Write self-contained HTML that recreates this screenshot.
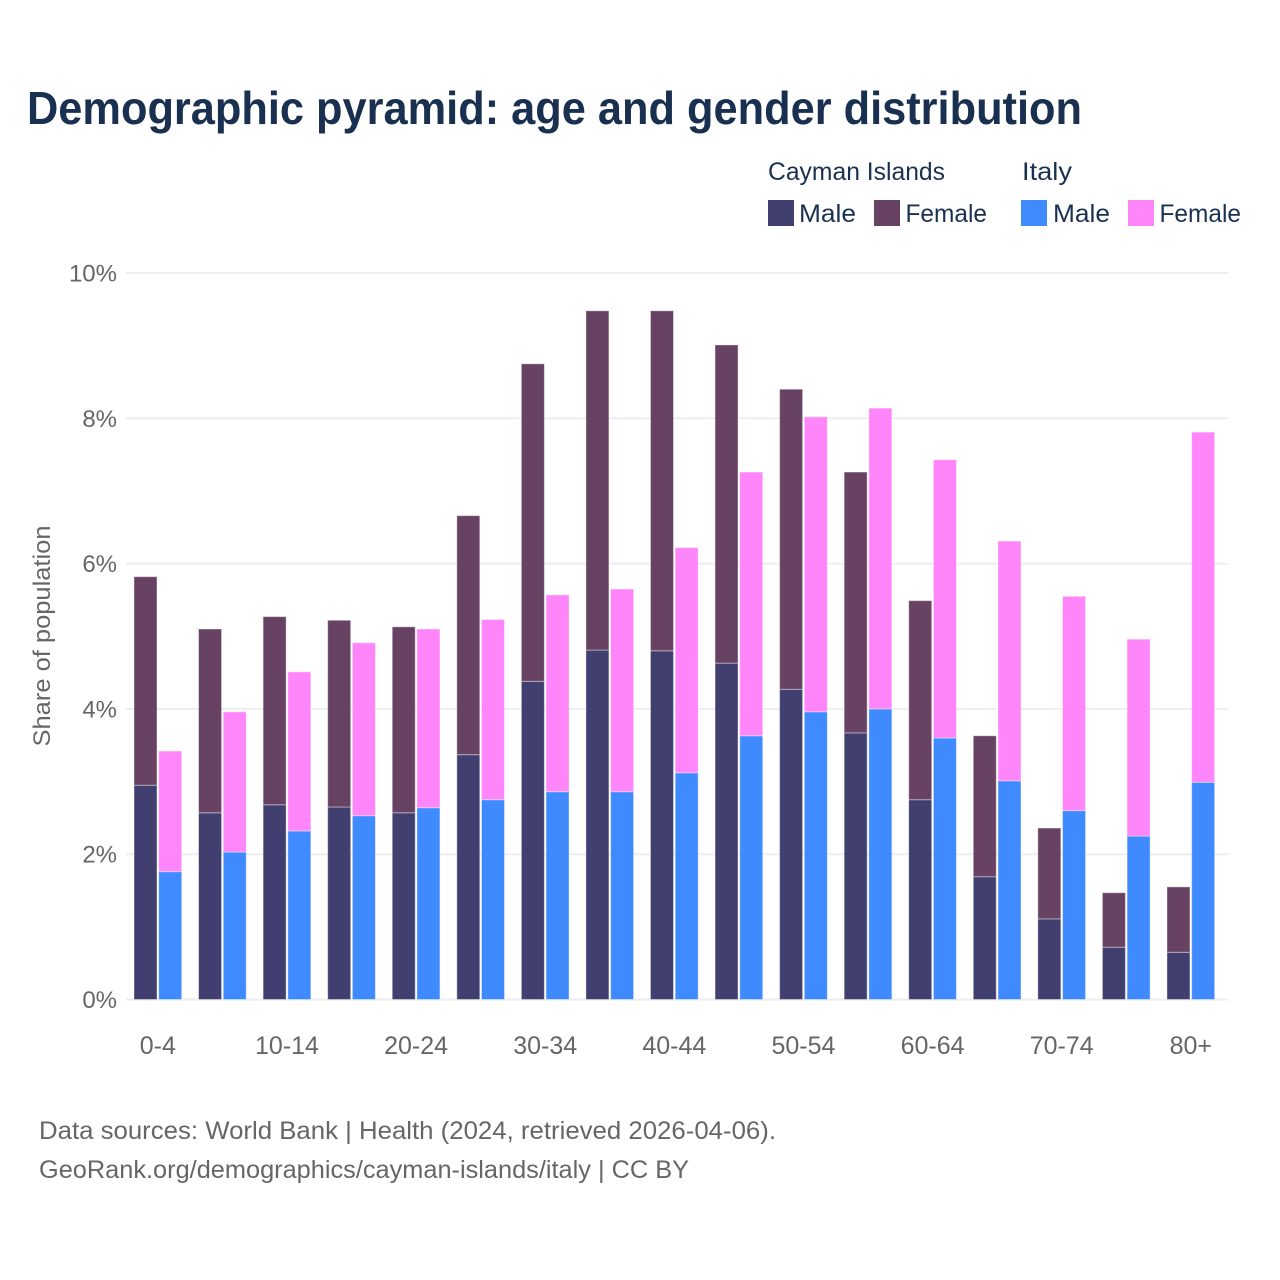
<!DOCTYPE html>
<html lang="en">
<head>
<meta charset="utf-8">
<title>Demographic pyramid: age and gender distribution</title>
<style>
html,body{margin:0;padding:0;background:#fff}
svg{display:block;font-family:"Liberation Sans",sans-serif}
</style>
</head>
<body>
<svg id="chart" xmlns="http://www.w3.org/2000/svg" width="1280" height="1280" viewBox="0 0 1280 1280">
  <rect x="0" y="0" width="1280" height="1280" fill="#ffffff"/>
  <text x="27" y="124" font-size="46" font-weight="700" fill="#1a3050" textLength="1055" lengthAdjust="spacingAndGlyphs">Demographic pyramid: age and gender distribution</text>

  <g font-size="25" fill="#1a3050">
    <text x="768" y="180" textLength="177" lengthAdjust="spacingAndGlyphs">Cayman Islands</text>
    <text x="1022" y="180" textLength="50" lengthAdjust="spacingAndGlyphs">Italy</text>
    <rect x="768" y="200" width="26" height="26" fill="#413e70"/>
    <text x="799" y="222" textLength="57" lengthAdjust="spacingAndGlyphs">Male</text>
    <rect x="874" y="200" width="26" height="26" fill="#684262"/>
    <text x="905.5" y="222" textLength="81.5" lengthAdjust="spacingAndGlyphs">Female</text>
    <rect x="1021" y="200" width="26" height="26" fill="#408aff"/>
    <text x="1053" y="222" textLength="57" lengthAdjust="spacingAndGlyphs">Male</text>
    <rect x="1128" y="200" width="26" height="26" fill="#ff85fa"/>
    <text x="1159.5" y="222" textLength="81.5" lengthAdjust="spacingAndGlyphs">Female</text>
  </g>

  <g id="grid"></g>
  <g id="y-ticks"></g>
  <g id="bars"></g>
  <g id="x-ticks"></g>

  <text transform="translate(50,636) rotate(-90)" text-anchor="middle" font-size="24" fill="#666666" textLength="221" lengthAdjust="spacingAndGlyphs">Share of population</text>

  <text x="39" y="1139" font-size="25" fill="#666666" textLength="737" lengthAdjust="spacingAndGlyphs">Data sources: World Bank | Health (2024, retrieved 2026-04-06).</text>
  <text x="39" y="1178" font-size="25" fill="#666666" textLength="650" lengthAdjust="spacingAndGlyphs">GeoRank.org/demographics/cayman-islands/italy | CC BY</text>
</svg>
<script>
const ageGroups = ["0-4","5-9","10-14","15-19","20-24","25-29","30-34","35-39","40-44","45-49","50-54","55-59","60-64","65-69","70-74","75-79","80+"];
const xTickLabels = ["0-4","10-14","20-24","30-34","40-44","50-54","60-64","70-74","80+"];
const yTickValues = [0,2,4,6,8,10];
const caymanMale = [2.95,2.57,2.68,2.65,2.57,3.37,4.38,4.81,4.80,4.63,4.27,3.67,2.75,1.69,1.11,0.72,0.65];
const caymanFemale = [2.87,2.53,2.59,2.57,2.56,3.29,4.37,4.67,4.68,4.38,4.13,3.59,2.74,1.94,1.25,0.75,0.90];
const italyMale = [1.76,2.03,2.32,2.53,2.64,2.75,2.86,2.86,3.12,3.63,3.96,4.00,3.60,3.01,2.60,2.25,2.99];
const italyFemale = [1.66,1.93,2.19,2.38,2.46,2.48,2.71,2.79,3.10,3.63,4.06,4.14,3.83,3.30,2.95,2.71,4.82];

const NS = "http://www.w3.org/2000/svg";
const plot = {left:126, right:1228, top:273, bottom:999.5};
const yMax = 10;
const firstGroupX = 134;
const groupStep = 64.56;
const barWidth = 23;
const barOffset = 24.7;

function yScale(v){ return plot.bottom - (v / yMax) * (plot.bottom - plot.top); }
function xScale(i){ return firstGroupX + i * groupStep; }
function make(tag, attrs, parent, text){
  const el = document.createElementNS(NS, tag);
  for (const k in attrs) el.setAttribute(k, attrs[k]);
  if (text !== undefined) el.textContent = text;
  parent.appendChild(el);
  return el;
}

const gridG = document.getElementById("grid");
const yTickG = document.getElementById("y-ticks");
yTickValues.forEach(function(v){
  const line = make("line", {x1:plot.left, x2:plot.right, y1:yScale(v), y2:yScale(v), stroke:"#eeeeee", "stroke-width":2}, gridG);
  
  
  const label = make("text", {x:117, y:yScale(v)+8.5, "text-anchor":"end", "font-size":24, fill:"#666666"}, yTickG, v + "%");
  
  
});

const barsG = document.getElementById("bars");
function drawBar(x, base, value, color){
  const rect = make("rect", {
    x:x, y:yScale(base + value), width:barWidth,
    height:yScale(base) - yScale(base + value),
    fill:color, stroke:"#ffffff", "stroke-opacity":0.4, "stroke-width":1
  }, barsG);
  
  
}
ageGroups.forEach(function(group, i){
  const x = xScale(i);
  drawBar(x, 0, caymanMale[i], "#413e70");
  drawBar(x, caymanMale[i], caymanFemale[i], "#684262");
  drawBar(x + barOffset, 0, italyMale[i], "#408aff");
  drawBar(x + barOffset, italyMale[i], italyFemale[i], "#ff85fa");
});

const xTickG = document.getElementById("x-ticks");
xTickLabels.forEach(function(name){
  const i = ageGroups.indexOf(name);
  const label = make("text", {x:xScale(i) + (barOffset + barWidth) / 2, y:1054, "text-anchor":"middle", "font-size":25, fill:"#666666"}, xTickG, name);
  
  
});
</script>
</body>
</html>
